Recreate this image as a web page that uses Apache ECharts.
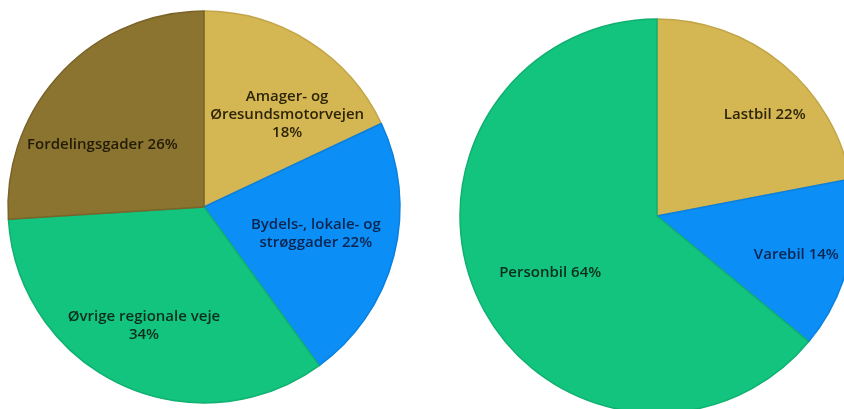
<!DOCTYPE html>
<html>
<head>
<meta charset="utf-8">
<script src="https://cdn.jsdelivr.net/npm/echarts@6/dist/echarts.min.js"></script>
<style>
  html, body { margin: 0; padding: 0; background: #ffffff; }
  #chart { width: 844px; height: 409px; }
</style>
</head>
<body>
<div id="chart"></div>
<script>
// Road types (share of traffic, %)
const roadNames = ['Amager- og\nØresundsmotorvejen', 'Bydels-, lokale- og\nstrøggader', 'Øvrige regionale veje\n', 'Fordelingsgader'];
const roadValues = [18, 22, 34, 26];

// Vehicle types (share of traffic, %)
const vehicleNames = ['Lastbil', 'Varebil', 'Personbil'];
const vehicleValues = [22, 14, 64];

// Slice styling
const roadFill = ['#D4B753', '#0B8EF6', '#13C47E', '#8B7330'];
const roadEdge = ['#C2A548', '#0A7FDD', '#10B070', '#7A6428'];
const roadText = ['#2E2509', '#0B2550', '#0B2E1B', '#221C07'];
const vehicleFill = ['#D4B753', '#0B8EF6', '#13C47E'];
const vehicleEdge = ['#C2A548', '#0A7FDD', '#10B070'];
const vehicleText = ['#2E2509', '#0B2550', '#0B2E1B'];

// Nudges applied to the inside labels
const roadLabelShift = [[29, -7], [14, 2], [-17, 27], [-28, 7]];
const vehicleLabelShift = [[43, -23], [41, 13], [-15, 14]];

const chart = echarts.init(document.getElementById('chart'), null, { renderer: 'canvas' });

function buildData(names, values, fill, edge, text) {
  return names.map((n, i) => ({
    name: n,
    value: values[i],
    itemStyle: { color: fill[i], borderColor: edge[i], borderWidth: 1.5 },
    label: { color: text[i] }
  }));
}

// "name value%" on one line, or on its own line for the multi-line names
function labelFmt(p) {
  const n = p.name;
  if (n.endsWith('\n')) return n + p.value + '%';
  if (n.indexOf('Øresund') >= 0) return n + '\n' + p.value + '%';
  return n + ' ' + p.value + '%';
}

const labelBase = {
  show: true,
  position: 'inside',
  formatter: labelFmt,
  fontFamily: 'Open Sans',
  fontWeight: 600,
  fontSize: 15,
  lineHeight: 18,
  align: 'center'
};

chart.setOption({
  animation: false,
  series: [
    {
      type: 'pie',
      center: [204, 207],
      radius: [0, 196],
      startAngle: 90,
      clockwise: true,
      label: labelBase,
      labelLine: { show: false },
      emphasis: { disabled: true },
      labelLayout: function (p) {
        const s = roadLabelShift[p.dataIndex];
        return { dx: s[0], dy: s[1] };
      },
      data: buildData(roadNames, roadValues, roadFill, roadEdge, roadText)
    },
    {
      type: 'pie',
      center: [657, 216],
      radius: [0, 197],
      startAngle: 90,
      clockwise: true,
      label: labelBase,
      labelLine: { show: false },
      emphasis: { disabled: true },
      labelLayout: function (p) {
        const s = vehicleLabelShift[p.dataIndex];
        return { dx: s[0], dy: s[1] };
      },
      data: buildData(vehicleNames, vehicleValues, vehicleFill, vehicleEdge, vehicleText)
    }
  ]
});
</script>
</body>
</html>
